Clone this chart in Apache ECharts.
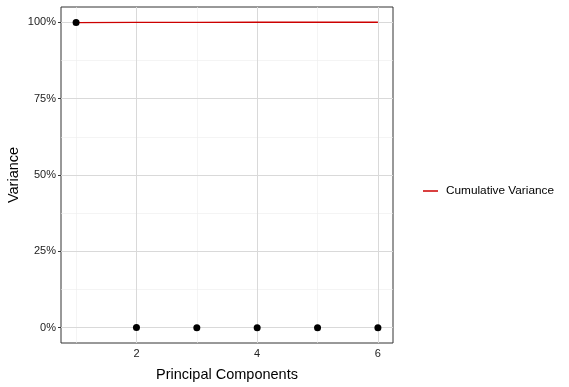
<!DOCTYPE html>
<html><head><meta charset="utf-8">
<script src="https://cdn.jsdelivr.net/npm/echarts@6/dist/echarts.min.js"></script>
<style>html,body{margin:0;padding:0;background:#fff}#c{width:569px;height:387px}</style>
</head><body><div id="c"></div>
<script>
const components = [1, 2, 3, 4, 5, 6];
const variance = [99.9, 0.06, 0.02, 0.01, 0.01, 0.0];
const cumulative = [99.9, 99.96, 99.98, 99.99, 100, 100];
const xTicks = [2, 4, 6];
const xMinor = [1, 3, 5];
const yTicks = [0, 25, 50, 75, 100];
const yMinor = [12.5, 37.5, 62.5, 87.5];

const font = 'Liberation Sans, Arial, sans-serif';
const chart = echarts.init(document.getElementById('c'));
const gl = (vals, key, color, w) => vals.map(v => ({[key]: v, lineStyle: {color: color, width: w, type: 'solid'}}));
chart.setOption({
  animation: false,
  grid: {left: 61, top: 7, width: 332, height: 336, containLabel: false, outerBoundsMode: 'none',
         show: true, borderColor: '#333', borderWidth: 1, backgroundColor: 'transparent'},
  xAxis: {
    type: 'value', min: 0.75, max: 6.25,
    name: 'Principal Components', nameLocation: 'middle', nameGap: 24,
    nameTextStyle: {fontFamily: font, fontSize: 14.5, color: '#000'},
    axisLine: {show: false},
    axisTick: {show: true, length: 3, customValues: xTicks, lineStyle: {color: '#333'}},
    axisLabel: {customValues: xTicks, fontFamily: font, fontSize: 11, color: '#222', margin: 5},
    splitLine: {show: false}
  },
  yAxis: {
    type: 'value', min: -5, max: 105,
    name: 'Variance', nameLocation: 'middle', nameGap: 40, nameMoveOverlap: false,
    nameTextStyle: {fontFamily: font, fontSize: 14.5, color: '#000'},
    axisLine: {show: false},
    axisTick: {show: true, length: 3, customValues: yTicks, lineStyle: {color: '#333'}},
    axisLabel: {customValues: yTicks, formatter: v => v + '%', fontFamily: font, fontSize: 11, color: '#222', margin: 5},
    splitLine: {show: false}
  },
  legend: {
    show: true, left: 418, top: 180, orient: 'vertical',
    data: [{name: 'Cumulative Variance', icon: 'rect'}],
    itemWidth: 15, itemHeight: 1.5, itemGap: 10,
    textStyle: {fontFamily: font, fontSize: 11.8, color: '#000', padding: [0, 0, 0, 3]}
  },
  series: [
    {
      type: 'scatter', data: [], z: 0, silent: true,
      markLine: {
        silent: true, symbol: 'none', label: {show: false}, animation: false,
        data: [].concat(gl(xMinor, 'xAxis', '#ededed', 0.6), gl(yMinor, 'yAxis', '#ededed', 0.6),
                        gl(xTicks, 'xAxis', '#d9d9d9', 1), gl(yTicks, 'yAxis', '#d9d9d9', 1))
      }
    },
    {
      name: 'Cumulative Variance', type: 'line', z: 20,
      data: components.map((c, i) => [c, cumulative[i]]),
      showSymbol: false, symbol: 'none',
      lineStyle: {color: '#cc0000', width: 1.4},
      itemStyle: {color: '#cc0000'}
    },
    {
      name: 'Variance', type: 'scatter', z: 30,
      data: components.map((c, i) => [c, variance[i]]),
      symbolSize: 7, itemStyle: {color: '#000', opacity: 1}
    }
  ]
});
</script></body></html>
